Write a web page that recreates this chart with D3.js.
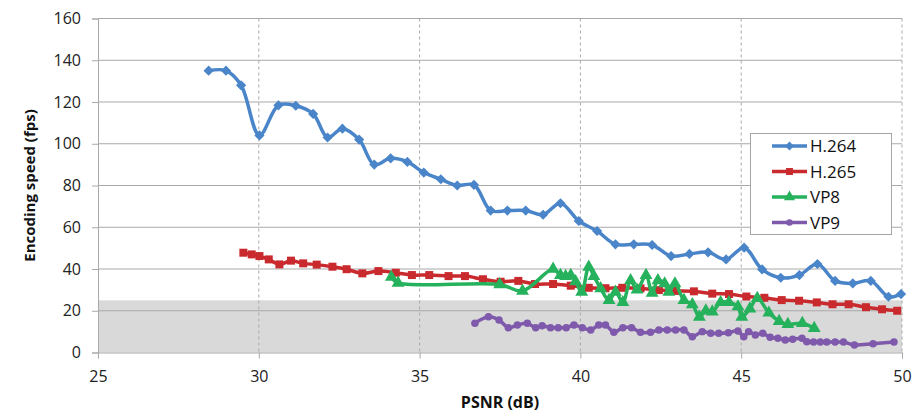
<!DOCTYPE html>
<html><head><meta charset="utf-8">
<script src="https://cdn.jsdelivr.net/npm/d3@7"></script>
<style>body{margin:0;background:#fff}svg{display:block}</style>
</head><body>
<svg id="c" width="914" height="412"></svg>
<script>
const xTicks = [25, 30, 35, 40, 45, 50];
const yTicks = [0, 20, 40, 60, 80, 100, 120, 140, 160];
const bandTop = 25;

const h264 = [[28.44,135],[28.98,135],[29.45,128],[30.02,104],[30.61,118.4],[31.15,118.2],[31.69,114.3],[32.14,103],[32.6,107.2],[33.12,102],[33.59,90],[34.1,93],[34.62,91.3],[35.13,86.2],[35.66,83],[36.17,80],[36.69,80.3],[37.21,68],[37.73,68],[38.3,68],[38.84,66],[39.38,71.5],[39.95,63],[40.52,58.2],[41.09,51.8],[41.66,51.8],[42.23,51.5],[42.82,46.2],[43.39,47.2],[43.97,48],[44.53,44.6],[45.09,50.2],[45.65,39.8],[46.23,35.8],[46.81,37.1],[47.37,42.4],[47.92,34.3],[48.47,33.1],[49.03,34.3],[49.58,26.7],[49.97,28]];
const h265 = [[29.52,47.8],[29.78,47],[30.02,46.2],[30.31,44.6],[30.64,42.2],[31.0,44],[31.38,42.7],[31.8,42.1],[32.29,41.1],[32.73,39.9],[33.22,37.9],[33.72,39],[34.26,38.2],[34.76,37.1],[35.3,37.1],[35.9,36.6],[36.41,36.6],[36.97,35.1],[37.52,33.9],[38.07,34.3],[38.59,32.8],[39.15,32.8],[39.7,32],[40.26,31],[40.78,30.8],[41.3,31],[41.87,30.7],[42.44,29.9],[42.96,29.5],[43.53,29.3],[44.1,28.2],[44.62,28],[45.16,26.8],[45.72,26.2],[46.26,25.1],[46.8,24.8],[47.35,24],[47.84,23.1],[48.34,23.1],[48.88,21.7],[49.38,20.7],[49.85,20]];
const vp8 = [[34.12,36.1],[34.33,33.3],[37.49,32.6],[38.2,29.5],[39.15,40],[39.38,37],[39.54,36.5],[39.7,37],[39.85,34],[40.04,29],[40.26,41],[40.42,36.5],[40.63,30.7],[40.89,25],[41.09,29],[41.32,24],[41.56,34.5],[41.76,30],[42.04,37],[42.23,28.5],[42.41,34.5],[42.62,33],[42.75,29],[42.94,33],[43.22,25],[43.48,23],[43.7,17],[43.9,20],[44.1,19.5],[44.36,24],[44.62,24],[44.9,22],[45.02,17],[45.27,21],[45.5,26],[45.86,19],[46.18,15],[46.45,13.5],[46.9,14],[47.27,11.6]];
const vp9 = [[36.72,14],[37.14,17.1],[37.47,15.6],[37.76,11.9],[38.04,13.2],[38.35,14],[38.61,11.9],[38.81,12.8],[39.07,11.9],[39.31,11.9],[39.56,11.9],[39.8,13.2],[40.06,11.9],[40.32,10.8],[40.57,13.2],[40.78,13.2],[41.04,9.7],[41.32,11.9],[41.59,11.9],[41.87,9.7],[42.18,9.7],[42.44,10.8],[42.7,10.8],[42.96,10.8],[43.22,10.8],[43.48,7.6],[43.79,10],[44.05,9.2],[44.3,9.2],[44.6,9.5],[44.9,10.3],[45.08,7.6],[45.23,10],[45.44,8.4],[45.67,9.2],[45.9,7.3],[46.14,6.8],[46.37,6],[46.6,6.4],[46.89,6.8],[47.04,5.2],[47.25,5],[47.46,5],[47.66,5],[47.92,5],[48.18,5],[48.52,3.6],[49.1,4.2],[49.75,5]];

const seriesNames = ["H.264", "H.265", "VP8", "VP9"];
const seriesData = [h264, h265, vp8, vp9];
const colors = ["#4a85c9", "#c92a2e", "#26b25c", "#7f59ab"];
const symbols = [d3.symbolSquare, d3.symbolSquare, d3.symbolTriangle, d3.symbolCircle];
const symRot = [45, 0, 0, 0];
const symSizes = [52, 64, 72, 44];

const svg = d3.select("#c");
const L = 98, R = 902, T = 18.5, B = 352.5;
const x = d3.scaleLinear().domain([25, 50]).range([L, R]);
const y = d3.scaleLinear().domain([0, 160]).range([B, T]);
const grid = "#a9a9a9";
const font = "'Open Sans', 'Liberation Sans', sans-serif";

// band
svg.append("rect").attr("x", x(25)).attr("y", y(bandTop)).attr("width", x(50) - x(25)).attr("height", y(0) - y(bandTop)).attr("fill", "#d9d9d9");

// horizontal grid
svg.append("g").selectAll("line").data(yTicks.filter(d => d > 0)).join("line")
  .attr("x1", L).attr("x2", R).attr("y1", d => y(d)).attr("y2", d => y(d))
  .attr("stroke", grid).attr("stroke-width", 1);
// vertical grid dashed
svg.append("g").selectAll("line").data(xTicks.filter(d => d > 25)).join("line")
  .attr("x1", d => x(d)).attr("x2", d => x(d)).attr("y1", T).attr("y2", B)
  .attr("stroke", grid).attr("stroke-width", 1).attr("stroke-dasharray", "3,3");

// axes
const yAxis = svg.append("g").attr("transform", `translate(${L},0)`)
  .call(d3.axisLeft(y).tickValues(yTicks).tickSize(6).tickPadding(11));
const xAxis = svg.append("g").attr("transform", `translate(0,${B})`)
  .call(d3.axisBottom(x).tickValues(xTicks).tickSize(6).tickPadding(12));
[yAxis, xAxis].forEach(a => {
  a.select(".domain").attr("stroke", grid);
  a.selectAll(".tick line").attr("stroke", grid);
  a.selectAll(".tick text").attr("fill", "#222").attr("font-size", 16).attr("font-family", font);
});

// titles
svg.append("text").attr("transform", `translate(30,${(T + B) / 2}) rotate(-90)`)
  .attr("text-anchor", "middle").attr("dy", "0.35em")
  .attr("font-family", font).attr("font-weight", "bold").attr("font-size", 15).attr("fill", "#111")
  .text("Encoding speed (fps)");
svg.append("text").attr("x", (L + R) / 2).attr("y", 408)
  .attr("text-anchor", "middle")
  .attr("font-family", font).attr("font-weight", "bold").attr("font-size", 16).attr("fill", "#111")
  .text("PSNR (dB)");

// series
const line = d3.line().x(d => x(d[0])).y(d => y(d[1])).curve(d3.curveCatmullRom.alpha(0.5));
seriesData.forEach((data, i) => {
  const g = svg.append("g");
  g.append("path").attr("d", line(data)).attr("fill", "none")
    .attr("stroke", colors[i]).attr("stroke-width", 3.5).attr("stroke-linejoin", "round");
  g.selectAll("path.m").data(data).join("path").attr("class", "m")
    .attr("transform", d => `translate(${x(d[0])},${y(d[1])}) rotate(${symRot[i]})`)
    .attr("d", d3.symbol().type(symbols[i]).size(symSizes[i]))
    .attr("fill", colors[i]);
});

// legend
const lg = svg.append("g");
lg.append("rect").attr("x", 750.5).attr("y", 133.5).attr("width", 141).attr("height", 101)
  .attr("fill", "#fff").attr("stroke", "#a6a6a6");
seriesNames.forEach((n, i) => {
  const yy = 146 + i * 25.5;
  lg.append("line").attr("x1", 772).attr("x2", 807).attr("y1", yy).attr("y2", yy)
    .attr("stroke", colors[i]).attr("stroke-width", 3.5);
  lg.append("path").attr("transform", `translate(789.5,${yy}) rotate(${symRot[i]})`)
    .attr("d", d3.symbol().type(symbols[i]).size(symSizes[i] * 0.75)).attr("fill", colors[i]);
  lg.append("text").attr("x", 810).attr("y", yy).attr("dy", "0.36em")
    .attr("font-family", font).attr("font-size", 17).attr("fill", "#111").text(n);
});
</script>
</body></html>
